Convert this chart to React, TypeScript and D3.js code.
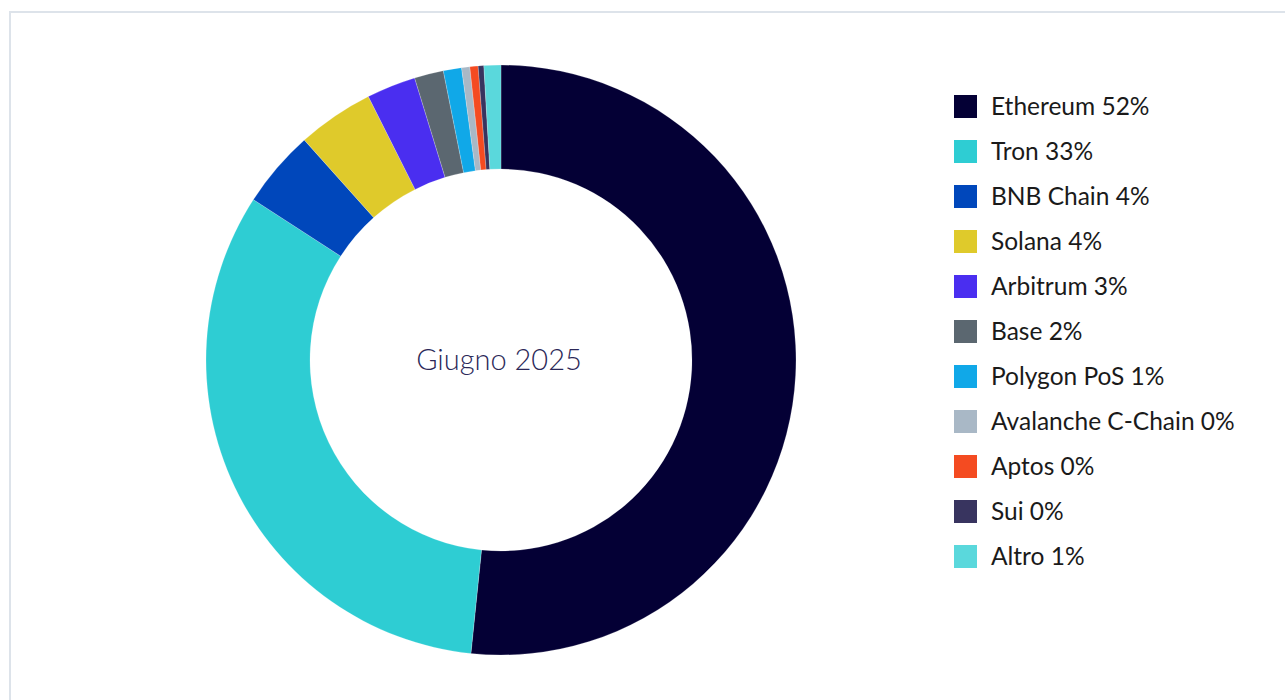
import React, { useEffect } from "react";
import * as d3 from "d3";

const categories = ["Ethereum", "Tron", "BNB Chain", "Solana", "Arbitrum", "Base", "Polygon PoS", "Avalanche C-Chain", "Aptos", "Sui", "Altro"];
const values = [51.75, 32.6, 4.25, 4.2, 2.7, 1.6, 1.0, 0.45, 0.45, 0.31, 0.93];
const labels = ["52%", "33%", "4%", "4%", "3%", "2%", "1%", "0%", "0%", "0%", "1%"];
const colors = ["#040035", "#2ecdd3", "#0047bb", "#dfca2b", "#4a2ef0", "#5b6770", "#10a8e8", "#a9b8c6", "#f44b21", "#38345f", "#5ad8dc"];
const centerLabel = "Giugno 2025";

const W = 1285;
const H = 700;
const FONT = "Lato, 'Noto Sans', sans-serif";

export default function App() {
  useEffect(() => {
    document.body.style.margin = "0";
    document.body.style.overflow = "hidden";
  }, []);

  const cx = 501;
  const cy = 360;
  const outerR = 295;
  const innerR = 191;

  const data = categories.map((c, i) => ({ name: c, value: values[i], color: colors[i], label: labels[i] }));
  const pie = d3.pie<any>().value((d) => d.value).sort(null);
  const arcs = pie(data);
  const arcGen = d3.arc<any>().innerRadius(innerR).outerRadius(outerR);

  const legendY = d3.scaleLinear().domain([0, 1]).range([106.5, 151.5]);

  return (
    <svg width={W} height={H} style={{ display: "block" }}>
      <rect x={0} y={0} width={W} height={H} fill="#ffffff" />
      <rect x={10} y={12} width={W + 20} height={H + 20} fill="#ffffff" stroke="#dde3ea" strokeWidth={2} />
      <g transform={`translate(${cx},${cy})`}>
        {arcs.map((a, i) => (
          <path key={i} d={arcGen(a) as string} fill={a.data.color} stroke="#ffffff" strokeWidth={0.5} strokeOpacity={0.4} />
        ))}
        <text x={-2} y={0} dy="0.35em" textAnchor="middle" fontFamily={FONT} fontWeight={300} fontSize={29} fill="#2b2858">
          {centerLabel}
        </text>
      </g>
      <g>
        {data.map((d, i) => (
          <g key={i} transform={`translate(954,${legendY(i)})`}>
            <rect x={0} y={-11.5} width={23} height={23} fill={d.color} />
            <text x={37} y={0} dy="0.34em" fontFamily={FONT} fontSize={24.5} fill="#1a1a1a">
              {`${d.name} ${d.label}`}
            </text>
          </g>
        ))}
      </g>
    </svg>
  );
}
